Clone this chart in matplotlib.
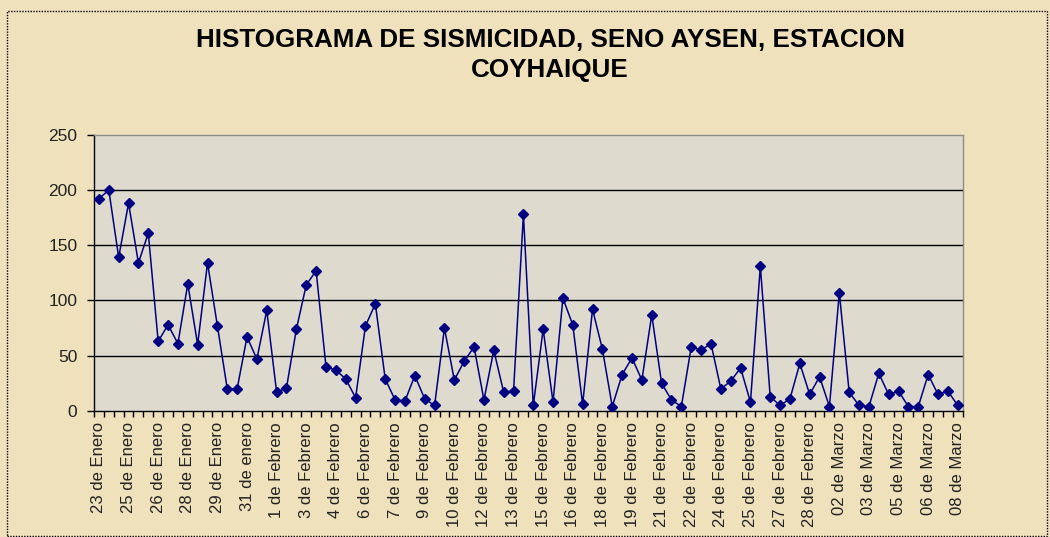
import matplotlib
matplotlib.use("Agg")
import matplotlib.pyplot as plt
import numpy as np
from matplotlib.patches import Rectangle

# sismos por periodo (dos lecturas por dia aprox.)
values = [192, 200, 139, 188, 134, 161, 63, 78, 61, 115,
          60, 134, 77, 20, 20, 67, 47, 91, 17, 21,
          74, 114, 127, 40, 37, 29, 12, 77, 97, 29,
          10, 9, 32, 11, 5, 75, 28, 45, 58, 10,
          55, 17, 18, 178, 5, 74, 8, 102, 78, 6,
          92, 56, 4, 33, 48, 28, 87, 25, 10, 4,
          58, 55, 61, 20, 27, 39, 8, 131, 13, 5,
          11, 43, 15, 31, 4, 107, 17, 5, 4, 34,
          15, 18, 4, 4, 33, 15, 18, 5]

tick_labels = ["23 de Enero", "25 de Enero", "26 de Enero", "28 de Enero",
               "29 de Enero", "31 de enero", "1 de Febrero", "3 de Febrero",
               "4 de Febrero", "6 de Febrero", "7 de Febrero", "9 de Febrero",
               "10 de Febrero", "12 de Febrero", "13 de Febrero", "15 de Febrero",
               "16 de Febrero", "18 de Febrero", "19 de Febrero", "21 de Febrero",
               "22 de Febrero", "24 de Febrero", "25 de Febrero", "27 de Febrero",
               "28 de Febrero", "02 de Marzo", "03 de Marzo", "05 de Marzo",
               "06 de Marzo", "08 de Marzo"]

y_ticks = [0, 50, 100, 150, 200, 250]

title_lines = ["HISTOGRAMA DE SISMICIDAD, SENO AYSEN, ESTACION", "COYHAIQUE"]

plt.rcParams['font.family'] = ['Liberation Sans', 'DejaVu Sans']

fig = plt.figure(figsize=(10.5, 5.37), dpi=100)
fig.patch.set_facecolor('#efe1bb')

ax = fig.add_axes([94 / 1050, 1 - 411 / 537, 868.7 / 1050, 276.3 / 537])
ax.set_facecolor('#dedacd')

x = np.arange(len(values))
ax.plot(x, values, color='#000080', lw=1.1, marker='D', ms=5,
        markerfacecolor='#000080', markeredgecolor='#000080', zorder=3)

ax.set_xlim(-0.5, len(values) - 0.5)
ax.set_ylim(0, 250)

# y axis
ax.set_yticks(y_ticks)
ax.tick_params(axis='y', length=5, width=1, color='black', labelsize=12.5,
               labelcolor='#222222', pad=7)
for v in y_ticks[1:-1]:
    ax.axhline(v, color='black', lw=1, zorder=1)

# x axis: ticks at category edges, labels every 3rd category
ax.set_xticks(np.arange(-0.5, len(values), 1))
ax.set_xticklabels([])
ax.tick_params(axis='x', which='major', length=4, width=1, color='black')
ax.set_xticks(np.arange(0, len(values), 3), minor=True)
ax.set_xticklabels(tick_labels, minor=True, rotation=90, fontsize=12)
ax.tick_params(axis='x', which='minor', length=0, pad=8, labelcolor='#222222')

for s in ['top', 'right']:
    ax.spines[s].set_color('#8c8c8c')
    ax.spines[s].set_linewidth(1)
for s in ['left', 'bottom']:
    ax.spines[s].set_color('black')
    ax.spines[s].set_linewidth(1)

for line, ybase in zip(title_lines, [47, 77]):
    fig.text(550 / 1050, 1 - ybase / 537, line, ha='center', va='baseline',
             fontsize=18.7, fontweight='bold', color='black')

fig.patches.append(Rectangle((7 / 1050, 1 / 537), 1040 / 1050, 525 / 537,
                             transform=fig.transFigure, fill=False,
                             edgecolor='black', lw=1, ls=(0, (1, 1))))

fig.savefig('out.png', dpi=100, facecolor=fig.get_facecolor())
